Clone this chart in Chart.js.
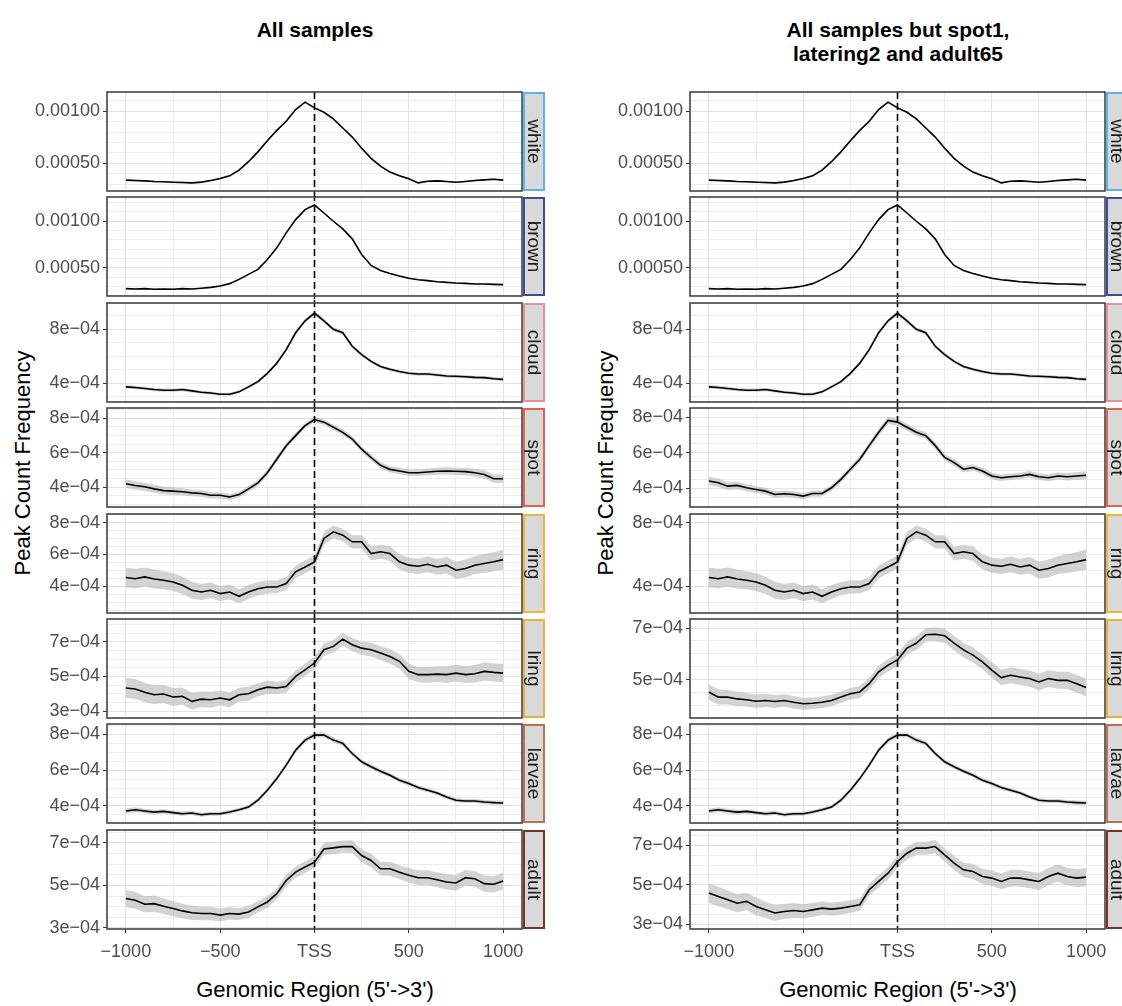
<!DOCTYPE html>
<html><head><meta charset="utf-8">
<script src="https://cdn.jsdelivr.net/npm/chart.js@4.4.1/dist/chart.umd.min.js"></script>
<style>
body{margin:0;background:#fff;width:1122px;height:1006px;overflow:hidden;position:relative;font-family:"Liberation Sans",Arial,Helvetica,sans-serif;}
canvas{position:absolute;}
.t{position:absolute;white-space:nowrap;color:#000;}
</style></head><body>
<div class="t" style="left:315px;top:30px;transform:translate(-50%,-50%);font-size:21px;font-weight:bold;">All samples</div>
<div class="t" style="left:898px;top:42px;transform:translate(-50%,-50%);font-size:21px;font-weight:bold;text-align:center;line-height:24px;">All samples but spot1,<br>latering2 and adult65</div>
<div class="t" style="left:23px;top:463px;transform:translate(-50%,-50%) rotate(-90deg);font-size:22px;">Peak Count Frequency</div>
<div class="t" style="left:606px;top:463px;transform:translate(-50%,-50%) rotate(-90deg);font-size:22px;">Peak Count Frequency</div>
<div class="t" style="left:315px;top:990px;transform:translate(-50%,-50%);font-size:22px;">Genomic Region (5'-&gt;3')</div>
<div class="t" style="left:898px;top:990px;transform:translate(-50%,-50%);font-size:22px;">Genomic Region (5'-&gt;3')</div>
<script>
// values are in units of 1e-4 (peak count frequency)
const xPositions = [-1000,-950,-900,-850,-800,-750,-700,-650,-600,-550,-500,-450,-400,-350,-300,-250,-200,-150,-100,-50,0,50,100,150,200,250,300,350,400,450,500,550,600,650,700,750,800,850,900,950,1000];
const xTickValues = [-1000,-500,0,500,1000];
const xTickLabels = ['\u22121000','\u2212500','TSS','500','1000'];
const xMinorGrid = [-750,-250,250,750];

const categories = ['white','brown','cloud','spot','ring','lring','larvae','adult'];
const stripColors = ['#5db3e3','#3a4e9c','#e58fa0','#e2634e','#efb63c','#e6b245','#bf6e4e','#7a3326'];

const white = [3.39,3.35,3.32,3.26,3.23,3.19,3.16,3.13,3.2,3.35,3.55,3.8,4.35,5.16,6.1,7.16,8.16,9.03,10.16,10.87,10.32,9.9,9.26,8.39,7.52,6.45,5.48,4.74,4.16,3.81,3.52,3.13,3.29,3.32,3.26,3.19,3.26,3.35,3.42,3.48,3.39];
const brown = [2.75,2.71,2.75,2.68,2.71,2.68,2.75,2.71,2.79,2.89,3.04,3.29,3.75,4.29,4.82,5.89,7.14,8.75,10.18,11.25,11.75,10.89,10.0,9.18,8.11,6.43,5.25,4.71,4.39,4.11,3.86,3.71,3.61,3.5,3.43,3.36,3.32,3.25,3.25,3.21,3.18];
const cloud = [3.75,3.7,3.63,3.55,3.5,3.5,3.55,3.45,3.35,3.3,3.2,3.2,3.38,3.75,4.13,4.75,5.5,6.5,7.75,8.63,9.2,8.63,8.0,7.75,6.75,6.13,5.63,5.25,5.05,4.88,4.75,4.7,4.7,4.63,4.55,4.53,4.5,4.45,4.43,4.35,4.3];
const spotAll = [4.2,4.1,4.02,3.9,3.8,3.77,3.73,3.67,3.63,3.53,3.53,3.43,3.57,3.9,4.25,4.84,5.62,6.4,6.99,7.57,7.92,7.77,7.47,7.18,6.79,6.2,5.72,5.27,5.03,4.94,4.84,4.84,4.88,4.92,4.94,4.92,4.9,4.84,4.74,4.49,4.49];
const ring = [4.55,4.48,4.59,4.46,4.38,4.27,4.06,3.75,3.64,3.75,3.54,3.64,3.37,3.64,3.85,3.96,3.96,4.17,4.91,5.22,5.54,7.01,7.43,7.22,6.8,6.8,6.06,6.17,6.06,5.54,5.33,5.26,5.39,5.22,5.33,5.01,5.12,5.33,5.43,5.54,5.68];
const lringAll = [4.33,4.27,4.08,3.94,3.98,3.81,3.85,3.56,3.69,3.65,3.75,3.65,3.94,4.0,4.23,4.38,4.33,4.42,5.0,5.38,5.77,6.54,6.73,7.15,6.83,6.63,6.54,6.35,6.15,5.87,5.29,5.1,5.1,5.13,5.1,5.19,5.1,5.15,5.29,5.23,5.19];
const larvae = [3.72,3.79,3.72,3.66,3.7,3.63,3.57,3.61,3.51,3.57,3.57,3.66,3.79,3.94,4.32,4.88,5.53,6.28,7.12,7.68,7.96,7.96,7.68,7.5,6.93,6.47,6.19,5.94,5.72,5.44,5.25,5.03,4.88,4.73,4.5,4.32,4.28,4.28,4.22,4.19,4.17];
const adultAll = [4.38,4.3,4.11,4.14,4.02,3.91,3.8,3.71,3.68,3.68,3.6,3.68,3.65,3.75,3.99,4.22,4.61,5.23,5.62,5.86,6.09,6.71,6.76,6.82,6.82,6.4,6.17,5.78,5.78,5.62,5.47,5.36,5.36,5.26,5.16,5.11,5.36,5.31,5.08,5.05,5.2];
const spotSub = [4.42,4.32,4.13,4.17,4.04,3.94,3.85,3.66,3.7,3.66,3.57,3.72,3.72,4.04,4.51,5.08,5.64,6.4,7.15,7.81,7.72,7.43,7.15,6.96,6.4,5.74,5.45,5.08,5.17,4.98,4.7,4.6,4.66,4.7,4.79,4.66,4.6,4.7,4.66,4.7,4.74];
const lringSub = [4.52,4.32,4.32,4.25,4.22,4.16,4.19,4.15,4.19,4.12,4.06,4.08,4.12,4.19,4.32,4.45,4.52,4.84,5.3,5.56,5.76,6.22,6.41,6.74,6.76,6.7,6.41,6.15,5.95,5.69,5.37,5.08,5.17,5.1,5.04,4.91,5.04,4.97,4.97,4.84,4.69];
const adultSub = [4.58,4.41,4.24,4.07,4.16,3.9,3.73,3.57,3.65,3.7,3.65,3.73,3.82,3.77,3.82,3.9,3.99,4.75,5.17,5.59,6.18,6.6,6.86,6.86,6.94,6.52,6.1,5.76,5.68,5.42,5.34,5.17,5.34,5.34,5.25,5.17,5.42,5.59,5.42,5.34,5.39];

// ribbon half-widths, one value per 100 bp (-1000..1000)
const seWhite = [0.09,0.08,0.08,0.08,0.08,0.08,0.08,0.08,0.08,0.08,0.08,0.08,0.08,0.08,0.08,0.08,0.08,0.08,0.08,0.08,0.09];
const seBrown = [0.07,0.06,0.06,0.06,0.06,0.06,0.06,0.06,0.06,0.06,0.07,0.06,0.06,0.06,0.06,0.06,0.06,0.06,0.06,0.06,0.07];
const seCloud = [0.13,0.12,0.12,0.12,0.11,0.11,0.11,0.12,0.13,0.14,0.15,0.14,0.13,0.12,0.12,0.12,0.12,0.12,0.12,0.12,0.13];
const seSpotAll = [0.25,0.24,0.22,0.2,0.19,0.18,0.17,0.17,0.16,0.16,0.16,0.16,0.16,0.17,0.18,0.19,0.2,0.21,0.22,0.24,0.26];
const seRing = [0.62,0.6,0.57,0.54,0.5,0.47,0.44,0.42,0.4,0.4,0.4,0.4,0.42,0.44,0.46,0.48,0.5,0.53,0.56,0.6,0.64];
const seLringAll = [0.58,0.55,0.52,0.49,0.46,0.43,0.4,0.38,0.36,0.36,0.36,0.37,0.38,0.4,0.42,0.44,0.46,0.48,0.5,0.52,0.54];
const seLarvae = [0.14,0.13,0.12,0.12,0.11,0.11,0.11,0.12,0.13,0.14,0.14,0.14,0.13,0.13,0.12,0.12,0.11,0.11,0.11,0.12,0.12];
const seAdultAll = [0.4,0.38,0.36,0.34,0.32,0.3,0.28,0.27,0.27,0.27,0.28,0.29,0.3,0.32,0.33,0.34,0.35,0.36,0.37,0.38,0.4];
const seSpotSub = [0.24,0.22,0.2,0.19,0.18,0.17,0.17,0.17,0.18,0.19,0.2,0.2,0.19,0.18,0.18,0.18,0.18,0.19,0.2,0.21,0.22];
const seLringSub = [0.3,0.28,0.26,0.25,0.24,0.23,0.22,0.22,0.23,0.24,0.25,0.26,0.27,0.28,0.29,0.3,0.31,0.32,0.33,0.34,0.35];
const seAdultSub = [0.5,0.47,0.44,0.41,0.38,0.36,0.34,0.32,0.31,0.31,0.32,0.33,0.34,0.36,0.38,0.4,0.42,0.43,0.44,0.45,0.46];

// y axis limits per panel [min, max]
const yLimitsAll = [[2.35,11.84],[1.96,12.61],[2.63,9.95],[2.85,8.59],[2.32,8.55],[2.6,8.31],[3.05,8.58],[2.95,7.6]];
const yLimitsSub = [[2.35,11.84],[1.96,12.61],[2.63,9.95],[2.96,8.51],[2.32,8.55],[3.51,7.35],[3.05,8.58],[2.76,7.78]];
// major y ticks and their labels
const yTicksAll = [[5,10],[5,10],[4,8],[4,6,8],[4,6,8],[3,5,7],[4,6,8],[3,5,7]];
const yTicksSub = [[5,10],[5,10],[4,8],[4,6,8],[4,8],[5,7],[4,6,8],[3,5,7]];
const yTickLabelsAll = [['0.00050','0.00100'],['0.00050','0.00100'],['4e\u221204','8e\u221204'],['4e\u221204','6e\u221204','8e\u221204'],['4e\u221204','6e\u221204','8e\u221204'],['3e\u221204','5e\u221204','7e\u221204'],['4e\u221204','6e\u221204','8e\u221204'],['3e\u221204','5e\u221204','7e\u221204']];
const yTickLabelsSub = [['0.00050','0.00100'],['0.00050','0.00100'],['4e\u221204','8e\u221204'],['4e\u221204','6e\u221204','8e\u221204'],['4e\u221204','8e\u221204'],['5e\u221204','7e\u221204'],['4e\u221204','6e\u221204','8e\u221204'],['3e\u221204','5e\u221204','7e\u221204']];
const yGridStepAll = [1,1,1,0.5,0.5,0.5,0.5,0.5];
const yGridStepSub = [1,1,1,0.5,1,0.5,0.5,0.5];

const seriesAll = [white,brown,cloud,spotAll,ring,lringAll,larvae,adultAll];
const seriesSub = [white,brown,cloud,spotSub,ring,lringSub,larvae,adultSub];
const seAll = [seWhite,seBrown,seCloud,seSpotAll,seRing,seLringAll,seLarvae,seAdultAll];
const seSub = [seWhite,seBrown,seCloud,seSpotSub,seRing,seLringSub,seLarvae,seAdultSub];

const columns = [
  {left:0, width:560, series:seriesAll, se:seAll, lim:yLimitsAll, ticks:yTicksAll, labels:yTickLabelsAll, step:yGridStepAll},
  {left:583, width:539, series:seriesSub, se:seSub, lim:yLimitsSub, ticks:yTicksSub, labels:yTickLabelsSub, step:yGridStepSub}
];
const panelTops = [92,197,303,408,514,619,724,830];
const PANEL_H = 99, AXIS_W = 107, PLOT_W = 415, X_AXIS_H = 40;
const FONT = '"Liberation Sans", Arial, Helvetica, sans-serif';

const panelDeco = {
  id: 'panelDeco',
  afterDatasetsDraw(chart, args, o) {
    const {ctx, chartArea: a, scales} = chart;
    const x0 = scales.x.getPixelForValue(0);
    ctx.save();
    ctx.strokeStyle = '#000'; ctx.lineWidth = 1.6; ctx.setLineDash([7,4]);
    ctx.beginPath(); ctx.moveTo(x0, a.top - o.extTop); ctx.lineTo(x0, a.bottom + o.extBottom); ctx.stroke();
    ctx.restore();
  },
  afterDraw(chart, args, o) {
    const {ctx, chartArea: a} = chart;
    ctx.save();
    ctx.strokeStyle = '#444'; ctx.lineWidth = 1.6;
    ctx.strokeRect(a.left, a.top, a.right - a.left, a.bottom - a.top);
    const sx = a.right + 1, sw = 22, h = a.bottom - a.top;
    ctx.fillStyle = '#d9d9d9'; ctx.fillRect(sx, a.top, sw, h);
    ctx.strokeStyle = o.color; ctx.lineWidth = 2;
    ctx.strokeRect(sx + 1, a.top + 1, sw - 2, h - 2);
    ctx.translate(sx + sw / 2, a.top + h / 2);
    ctx.rotate(Math.PI / 2);
    ctx.fillStyle = '#1a1a1a'; ctx.font = '19px ' + FONT;
    ctx.textAlign = 'center'; ctx.textBaseline = 'middle';
    ctx.fillText(o.label, 0, 1);
    ctx.restore();
  }
};

const isIn = (arr, v) => arr.some(m => Math.abs(m - v) < 1e-6);

columns.forEach(col => {
  categories.forEach((cat, i) => {
    const isBottom = i === categories.length - 1;
    const cv = document.createElement('canvas');
    const H = 3 + PANEL_H + (isBottom ? X_AXIS_H : 3);
    cv.width = col.width; cv.height = H;
    cv.style.left = col.left + 'px'; cv.style.top = (panelTops[i] - 3) + 'px';
    cv.style.width = col.width + 'px'; cv.style.height = H + 'px';
    document.body.appendChild(cv);
    const vals = col.series[i], se = col.se[i];
    const line = xPositions.map((x, k) => ({x, y: vals[k]}));
    const lower = xPositions.map((x, k) => ({x, y: vals[k] - se[Math.floor(k / 2)]}));
    const upper = xPositions.map((x, k) => ({x, y: vals[k] + se[Math.floor(k / 2)]}));
    const majors = col.ticks[i], majorLabels = col.labels[i], step = col.step[i];
    const [ymin, ymax] = col.lim[i];
    new Chart(cv, {
      type: 'line',
      data: {datasets: [
        {data: line, borderColor: '#000', borderWidth: 1.6, pointRadius: 0, fill: false, tension: 0},
        {data: lower, borderWidth: 0, borderColor: 'rgba(0,0,0,0)', pointRadius: 0, fill: false},
        {data: upper, borderWidth: 0, borderColor: 'rgba(0,0,0,0)', pointRadius: 0, fill: '-1', backgroundColor: 'rgba(175,175,175,0.55)'}
      ]},
      options: {
        animation: false, responsive: false, devicePixelRatio: 1,
        layout: {padding: {left: 0, top: 3, bottom: isBottom ? 0 : 3, right: col.width - AXIS_W - PLOT_W}},
        plugins: {legend: {display: false}, tooltip: {enabled: false},
          panelDeco: {label: cat, color: stripColors[i], extTop: i === 0 ? 0 : 3, extBottom: isBottom ? 0 : 3}},
        scales: {
          x: {
            type: 'linear', min: -1100, max: 1100,
            afterBuildTicks: s => { s.ticks = xTickValues.concat(xMinorGrid).sort((a, b) => a - b).map(v => ({value: v})); },
            afterFit: s => { s.height = isBottom ? X_AXIS_H : 0; s.paddingLeft = 0; s.paddingRight = 0; s.paddingTop = 0; s.paddingBottom = 0; },
            border: {display: false},
            grid: {
              color: c => isIn(xTickValues, c.tick.value) ? '#e2e2e2' : '#ececec',
              lineWidth: 1, drawTicks: isBottom, tickLength: 4,
              tickColor: c => isIn(xTickValues, c.tick.value) ? '#333' : 'rgba(0,0,0,0)'
            },
            ticks: {
              display: isBottom, autoSkip: false, maxRotation: 0, padding: 8,
              color: '#4d4d4d', font: {family: FONT, size: 18},
              callback: v => { const k = xTickValues.indexOf(v); return k >= 0 ? xTickLabels[k] : ''; }
            }
          },
          y: {
            type: 'linear', min: ymin, max: ymax,
            afterBuildTicks: s => {
              const t = [];
              for (let v = Math.ceil(ymin / step) * step; v <= ymax + 1e-9; v += step) t.push({value: Math.round(v * 1000) / 1000});
              s.ticks = t;
            },
            afterFit: s => { s.width = AXIS_W; s.paddingTop = 0; s.paddingBottom = 0; s.paddingLeft = 0; s.paddingRight = 0; },
            border: {display: false},
            grid: {
              color: c => isIn(majors, c.tick.value) ? '#e2e2e2' : '#ececec',
              lineWidth: 1, drawTicks: true, tickLength: 4,
              tickColor: c => isIn(majors, c.tick.value) ? '#333' : 'rgba(0,0,0,0)'
            },
            ticks: {
              autoSkip: false, padding: 3, color: '#4d4d4d', font: {family: FONT, size: 18},
              callback: v => { const k = majors.findIndex(m => Math.abs(m - v) < 1e-6); return k >= 0 ? majorLabels[k] : ''; }
            }
          }
        }
      },
      plugins: [panelDeco]
    });
  });
});
</script>
</body></html>
